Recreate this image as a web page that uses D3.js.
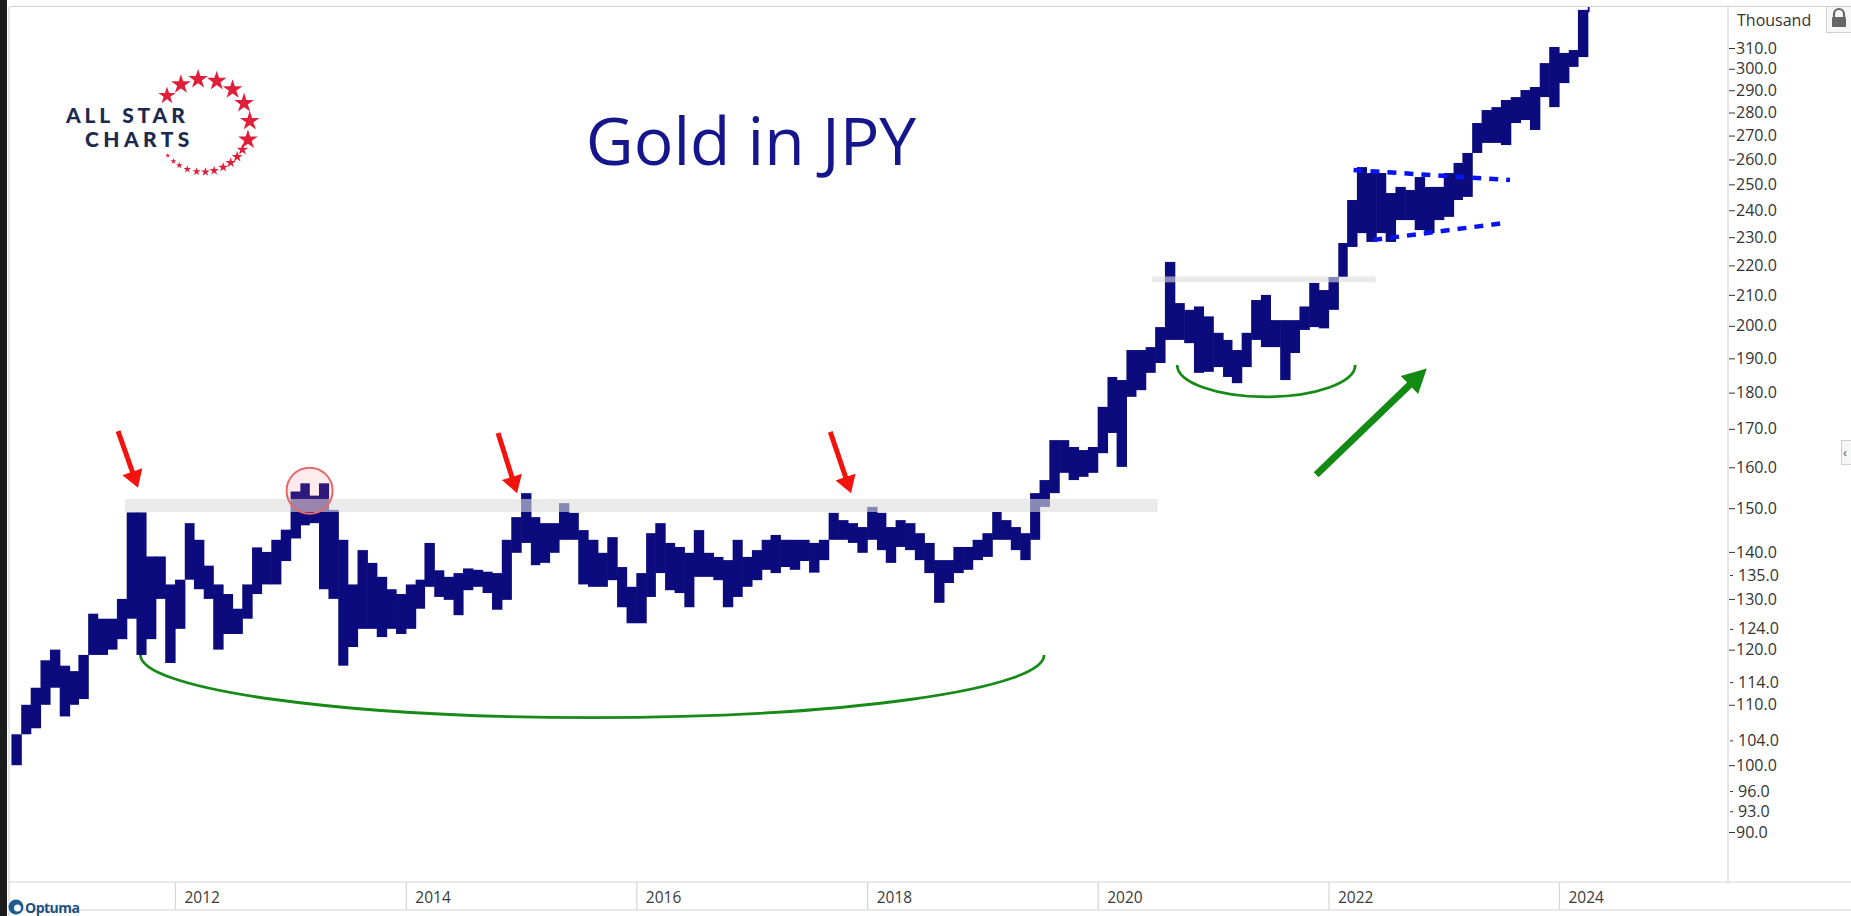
<!DOCTYPE html>
<html>
<head>
<meta charset="utf-8">
<script src="https://cdnjs.cloudflare.com/ajax/libs/d3/7.8.5/d3.min.js"></script>
<style>
  html, body { margin: 0; padding: 0; background: #fff; overflow: hidden; }
  svg { display: block; font-family: "Open Sans", sans-serif; }
</style>
</head>
<body>
<svg id="chart" width="1851" height="916"></svg>
<script>
// Monthly range of gold priced in yen (thousand JPY), Aug 2010 .. Apr 2024
const firstMonth = new Date(2010, 7, 1);
const lastDay = new Date(2024, 3, 5);
const highs = [
  105, 110, 113, 118, 120,
  117, 116, 119, 127, 126, 126, 130, 149, 149, 139, 139, 133,
  134, 146.5, 142.7, 137, 133, 131, 128, 133, 141, 140, 142.7, 145,
  154, 156, 153, 156, 149.6, 142.7, 133, 140.4, 137.6, 134.6, 132, 131,
  133, 134, 142, 136, 134.6, 135.4, 136.4, 136.1, 135.7, 135.4, 142.7, 147.9,
  153.6, 147.9, 146.5, 146.5, 151.2, 148.9, 144.9, 142.7, 139.8, 143.3, 136.7, 132.5,
  135.4, 144.2, 146.5, 142, 141.1, 139.8, 144.9, 139.8, 138.9, 138.2, 142.7, 138.9,
  140.4, 142.7, 143.8, 142.7, 142.7, 142.7, 142, 142.7, 148.9, 147.2, 146.5, 145.6,
  150.3, 148.9, 145.6, 147.2, 146.5, 144.2, 142, 138.2, 138.2, 141.1, 141.1, 142.7,
  144.2, 149.1, 147.2, 145.6, 144.2, 153.6, 156.8, 167, 167, 165.2, 164.4, 165.2,
  176, 184.5, 183.6, 192.5, 192.5, 193.4, 199.6, 221.2, 207.3, 205.1, 206.2, 203,
  197.8, 195.6, 192.5, 197.8, 208.3, 210, 201.8, 201.8, 201.8, 206.2, 214, 211.6,
  216, 227.9, 243.9, 256.9, 254.5, 254.5, 246.6, 249, 247.8, 252.9, 249, 249,
  254.5, 258.6, 262.7, 275.4, 281.1, 282.4, 285.6, 286.9, 290.1, 291.5, 302.7, 310.5,
  307.6, 309, 329.2, 345
];
const lows = [
  100, 105, 106, 110, 113,
  108, 110, 111, 119, 119, 120, 122, 126, 119, 122, 130, 117.5,
  124, 134, 132, 130, 120, 123, 123, 126, 131, 133, 133, 138,
  143, 146, 146.5, 132, 130, 117, 120.5, 124, 124, 122.4, 124, 123,
  124, 128, 132.5, 130.4, 129.8, 126.7, 131.8, 132.5, 131.2, 127.8, 129.8, 139.8,
  142, 137.1, 137.6, 139.8, 142.7, 142.7, 133, 132.5, 132.5, 133.9, 128.3, 125.1,
  125.1, 130.4, 135.4, 131.8, 131.2, 128.3, 134.6, 134.6, 133.9, 128.3, 130.4, 132.5,
  133.9, 136.1, 135.4, 136.7, 136.1, 138, 135.5, 138.2, 142.7, 142.7, 142, 139.8,
  142.7, 140.4, 137.6, 141.1, 140.4, 138.2, 135.4, 129.2, 133.3, 135.4, 136.1, 138.2,
  138.9, 142.7, 142.7, 140.4, 138.2, 142.7, 150.3, 153.6, 158.6, 156.8, 157.6, 158.6,
  163.6, 168.9, 160.1, 178.8, 180.7, 185.7, 188.6, 195.6, 195.6, 194.6, 185.7, 186,
  187.4, 184.5, 182.7, 187.4, 195.6, 193.4, 193.4, 183.6, 191.6, 198.7, 199.6, 199.2,
  205.1, 216, 226.5, 231.5, 228.3, 231.5, 228.3, 236.3, 236.3, 232.6, 231.5, 236.3,
  237.5, 243.9, 245.1, 262.7, 266.9, 266.9, 266, 275.4, 276.7, 272.4, 286.9, 282.4,
  293.3, 300.9, 305.6, 328
];

// Axis labels
const yTicks = [90, 93, 96, 100, 104, 110, 114, 120, 124, 130, 135, 140, 150, 160, 170,
  180, 190, 200, 210, 220, 230, 240, 250, 260, 270, 280, 290, 300, 310];
const xTickYears = [2012, 2014, 2016, 2018, 2020, 2022, 2024];

// Annotations (decimal year, thousand JPY)
const resistance = [
  { from: 2011.566, to: 2020.52, lo: 149.1, hi: 152.2 },
  { from: 2020.47, to: 2022.41, lo: 214.2, hi: 216.2 }
];
const redArrows = [
  { x1: 2011.506, y1: 169.4, x2: 2011.679, y2: 154.9 },
  { x1: 2014.80, y1: 168.9, x2: 2014.965, y2: 153.6 },
  { x1: 2017.68, y1: 169.2, x2: 2017.86, y2: 153.6 }
];
const baseArcs = [
  { from: 2011.70, to: 2019.535, rim: 119.0, bottom: 107.8 },
  { from: 2020.688, to: 2022.232, rim: 188.0, bottom: 178.8 }
];
const greenArrow = { x1: 2021.893, y1: 158.1, x2: 2022.853, y2: 187.0 };
const pennant = [
  { x1: 2022.217, y1: 255.7, x2: 2023.575, y2: 251.7 },
  { x1: 2022.388, y1: 229.0, x2: 2023.503, y2: 235.1 }
];
const doubleTop = { x: 2013.165, y: 154.2 };

const data = highs.map((h, i) => ({
  date: d3.timeMonth.offset(firstMonth, i),
  high: h,
  low: lows[i]
}));

function dy(v) {
  const y = Math.floor(v);
  const a = new Date(y, 0, 1), b = new Date(y + 1, 0, 1);
  return new Date(+a + (v - y) * (b - a));
}

// Layout
const W = 1851, H = 916;
const plot = { left: 9, right: 1728, top: 7, bottom: 882 };
const stripBottom = 910;

const svg = d3.select("#chart");

const x = d3.scaleTime()
  .domain([new Date(2012, 0, 1), new Date(2024, 0, 1)])
  .range([175, 1559]);
const y = d3.scaleLog()
  .domain([90, 310])
  .range([832, 48]);

svg.append("rect").attr("width", W).attr("height", H).attr("fill", "#fff");

svg.append("defs").append("clipPath").attr("id", "plotClip")
  .append("rect")
  .attr("x", plot.left).attr("y", plot.top)
  .attr("width", plot.right - plot.left).attr("height", plot.bottom - plot.top);

// Frame
const frame = svg.append("g").attr("stroke", "#d4d4d4").attr("stroke-width", 1.2);
frame.append("line").attr("x1", plot.left).attr("x2", W).attr("y1", plot.top - 0.5).attr("y2", plot.top - 0.5);
frame.append("line").attr("x1", plot.left).attr("x2", plot.left).attr("y1", plot.top).attr("y2", H);
frame.append("line").attr("x1", plot.right).attr("x2", plot.right).attr("y1", plot.top).attr("y2", plot.bottom);
frame.append("line").attr("x1", plot.left).attr("x2", W).attr("y1", plot.bottom).attr("y2", plot.bottom);
frame.append("line").attr("x1", plot.left).attr("x2", W).attr("y1", stripBottom).attr("y2", stripBottom);

// Dark strip on the left edge
svg.append("rect").attr("x", 0).attr("y", 0).attr("width", 7).attr("height", H).attr("fill", "#1c1c1c");

const plotG = svg.append("g").attr("clip-path", "url(#plotClip)");

// Price bars (one per month, high to low)
plotG.append("g")
  .selectAll("rect")
  .data(data)
  .join("rect")
  .attr("x", (d) => x(d.date))
  .attr("width", (d, i) => {
    const next = i < data.length - 1 ? data[i + 1].date : lastDay;
    return x(next) - x(d.date) + 0.6;
  })
  .attr("y", (d) => y(d.high))
  .attr("height", (d) => y(d.low) - y(d.high))
  .attr("fill", "#0b0b7e");

// Resistance bands
plotG.append("g")
  .selectAll("rect")
  .data(resistance)
  .join("rect")
  .attr("x", (d) => x(dy(d.from)))
  .attr("width", (d) => x(dy(d.to)) - x(dy(d.from)))
  .attr("y", (d) => y(d.hi))
  .attr("height", (d) => y(d.lo) - y(d.hi))
  .attr("fill", "#dcdcdc")
  .attr("opacity", 0.6);

// Double top circle
plotG.append("circle")
  .attr("cx", x(dy(doubleTop.x)))
  .attr("cy", y(doubleTop.y))
  .attr("r", 23)
  .attr("fill", "rgba(255,110,110,0.14)")
  .attr("stroke", "#e46a6a")
  .attr("stroke-width", 2);

// Base arcs
plotG.append("g")
  .selectAll("path")
  .data(baseArcs)
  .join("path")
  .attr("d", (d) => {
    const x1 = x(dy(d.from)), x2 = x(dy(d.to)), yr = y(d.rim);
    const rx = (x2 - x1) / 2, ry = y(d.bottom) - yr;
    return `M${x1},${yr} A${rx},${ry} 0 0 0 ${x2},${yr}`;
  })
  .attr("fill", "none")
  .attr("stroke", "#178a17")
  .attr("stroke-width", 2.8);

// Pennant lines
plotG.append("g")
  .selectAll("line")
  .data(pennant)
  .join("line")
  .attr("x1", (d) => x(dy(d.x1))).attr("y1", (d) => y(d.y1))
  .attr("x2", (d) => x(dy(d.x2))).attr("y2", (d) => y(d.y2))
  .attr("stroke", "#0a14f0")
  .attr("stroke-width", 4.5)
  .attr("stroke-dasharray", "9,8");

function arrowPath(x1, y1, x2, y2, shaft, headLen, headW) {
  const ang = Math.atan2(y2 - y1, x2 - x1);
  const len = Math.hypot(x2 - x1, y2 - y1);
  const p = [
    [0, -shaft / 2], [len - headLen, -shaft / 2], [len - headLen, -headW / 2],
    [len, 0], [len - headLen, headW / 2], [len - headLen, shaft / 2], [0, shaft / 2]
  ].map(([u, v]) => [
    x1 + u * Math.cos(ang) - v * Math.sin(ang),
    y1 + u * Math.sin(ang) + v * Math.cos(ang)
  ]);
  return "M" + p.map((q) => q.join(",")).join("L") + "Z";
}

plotG.append("g")
  .selectAll("path")
  .data(redArrows)
  .join("path")
  .attr("d", (d) => arrowPath(x(dy(d.x1)), y(d.y1), x(dy(d.x2)), y(d.y2), 5, 17, 21))
  .attr("fill", "#f2130f");

plotG.append("path")
  .attr("d", arrowPath(x(dy(greenArrow.x1)), y(greenArrow.y1), x(dy(greenArrow.x2)), y(greenArrow.y2), 7, 24, 25))
  .attr("fill", "#138a13");

// Title
svg.append("text")
  .attr("x", 751).attr("y", 165)
  .attr("text-anchor", "middle")
  .attr("font-size", 66)
  .attr("fill", "#16168c")
  .text("Gold in JPY");

// Logo
const logo = svg.append("g").attr("fill", "#1b2a4e").attr("font-family", "Lato, 'Open Sans', sans-serif")
  .attr("font-weight", 900);
logo.append("text").attr("x", 66).attr("y", 123).attr("font-size", 21).attr("letter-spacing", 3.8).text("ALL STAR");
logo.append("text").attr("x", 85).attr("y", 147).attr("font-size", 21).attr("letter-spacing", 4.4).text("CHARTS");
const bigStars = [-140, -118, -96, -73, -51, -29, -6, 17];
const smallStars = [31, 42, 53, 64, 76, 87, 98, 110, 121, 130, 140];
const starG = svg.append("g").attr("fill", "#e0203a");
bigStars.forEach((a, i) => {
  const r = 47, t = a * Math.PI / 180;
  starG.append("path")
    .attr("transform", `translate(${203 + r * Math.cos(t)},${126 + r * Math.sin(t)})`)
    .attr("d", d3.symbol(d3.symbolStar, i === 0 ? 95 : 120)());
});
smallStars.forEach((a, i) => {
  const r = 46, t = a * Math.PI / 180;
  starG.append("path")
    .attr("transform", `translate(${203 + r * Math.cos(t)},${126 + r * Math.sin(t)})`)
    .attr("d", d3.symbol(d3.symbolStar, Math.max(6, 40 - i * 3.2))());
});

// Y axis
const yAxis = d3.axisRight(y)
  .tickValues(yTicks)
  .tickFormat(d3.format(".1f"))
  .tickSize(6)
  .tickPadding(2);
const yG = svg.append("g")
  .attr("transform", `translate(${plot.right},0)`)
  .call(yAxis);
yG.select(".domain").remove();
yG.selectAll(".tick line")
  .attr("stroke", "#333")
  .attr("x1", (d) => (d % 10 === 0 ? 1 : 2))
  .attr("x2", (d) => (d % 10 === 0 ? 7 : 5));
yG.selectAll(".tick text")
  .attr("x", (d) => (d % 10 === 0 ? 8 : 10))
  .attr("font-family", "'Open Sans', sans-serif")
  .attr("font-size", 16)
  .attr("fill", "#333");

svg.append("text")
  .attr("x", 1737).attr("y", 26)
  .attr("font-size", 16).attr("fill", "#333")
  .text("Thousand");
// lock box
svg.append("rect").attr("x", 1826.5).attr("y", 6.5).attr("width", 25).attr("height", 26)
  .attr("fill", "#f6f6f6").attr("stroke", "#cfcfcf");
svg.append("path").attr("d", "M1834,17 v-3 a5,5 0 0 1 10,0 v3").attr("fill", "none")
  .attr("stroke", "#666").attr("stroke-width", 2.2);
svg.append("rect").attr("x", 1832).attr("y", 17).attr("width", 14).attr("height", 10).attr("rx", 1).attr("fill", "#666");
// side toggle
svg.append("rect").attr("x", 1841.5).attr("y", 440.5).attr("width", 12).attr("height", 24)
  .attr("fill", "#f6f6f6").attr("stroke", "#cfcfcf");
svg.append("text").attr("x", 1843).attr("y", 457).attr("font-size", 13).attr("fill", "#555").text("‹");

// X axis
const xAxis = d3.axisBottom(x)
  .tickValues(xTickYears.map((yr) => new Date(yr, 0, 1)))
  .tickFormat(d3.timeFormat("%Y"))
  .tickSize(stripBottom - plot.bottom);
const xG = svg.append("g")
  .attr("transform", `translate(0,${plot.bottom})`)
  .call(xAxis);
xG.select(".domain").remove();
xG.selectAll(".tick line").attr("stroke", "#d4d4d4").attr("stroke-width", 1.2);
xG.selectAll(".tick text")
  .attr("x", 9).attr("y", 21).attr("dy", 0)
  .attr("text-anchor", "start")
  .attr("font-family", "'Open Sans', sans-serif")
  .attr("font-size", 15.5)
  .attr("fill", "#3a3a3a");

// Optuma mark
const opt = svg.append("g");
opt.append("circle").attr("cx", 16).attr("cy", 907).attr("r", 7.5).attr("fill", "#1d5b93");
opt.append("circle").attr("cx", 17.5).attr("cy", 908).attr("r", 3.5).attr("fill", "#fff");
opt.append("text").attr("x", 25).attr("y", 913).attr("font-size", 14).attr("font-weight", 700)
  .attr("fill", "#1d4f84").attr("letter-spacing", -0.5).text("Optuma");
</script>
</body>
</html>
